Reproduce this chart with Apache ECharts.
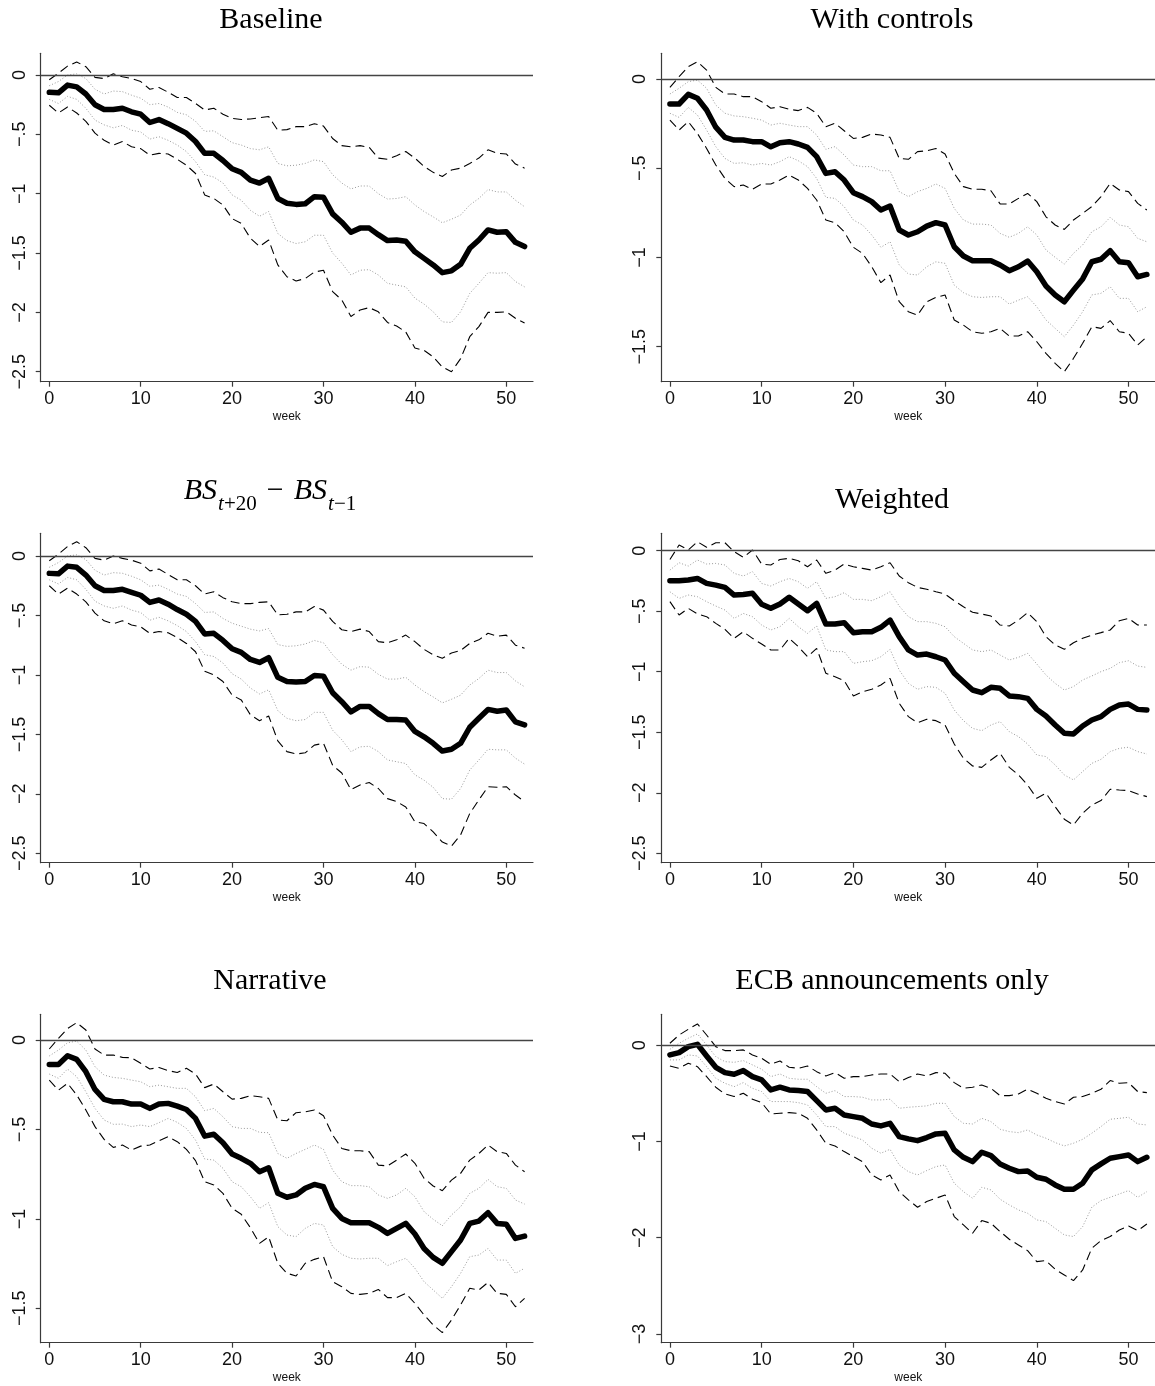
<!DOCTYPE html>
<html>
<head>
<meta charset="utf-8">
<script src="https://cdn.jsdelivr.net/npm/echarts@6/dist/echarts.min.js"></script>
<style>
html,body{margin:0;padding:0;background:#ffffff;}
#chart{width:1155px;height:1386px;}
</style>
</head>
<body>
<div id="chart"></div>
<script>
// ---------------- DATA ----------------
const weeks = [0,1,2,3,4,5,6,7,8,9,10,11,12,13,14,15,16,17,18,19,20,21,22,23,24,25,26,27,28,29,30,31,32,33,34,35,36,37,38,39,40,41,42,43,44,45,46,47,48,49,50,51,52];
const xTickValues = [0,10,20,30,40,50];

const titleBaseline = 'Baseline';
const titleControls = 'With controls';
const titleBS = '{m|BS}{si|t}{su|+20}{o|\u2009\u2212\u2009}{m|BS}{si|t}{su|\u22121}';
const titleWeighted = 'Weighted';
const titleNarrative = 'Narrative';
const titleECB = 'ECB announcements only';

const yTicksBaseline = [0,-0.5,-1,-1.5,-2,-2.5];
const yTicksControls = [0,-0.5,-1,-1.5];
const yTicksBS = [0,-0.5,-1,-1.5,-2,-2.5];
const yTicksWeighted = [0,-0.5,-1,-1.5,-2,-2.5];
const yTicksNarrative = [0,-0.5,-1,-1.5];
const yTicksECB = [0,-1,-2,-3];

// Baseline
const baselineEst = [-0.146,-0.15,-0.085,-0.10,-0.16,-0.25,-0.29,-0.29,-0.28,-0.31,-0.33,-0.40,-0.375,-0.41,-0.45,-0.49,-0.56,-0.66,-0.66,-0.72,-0.79,-0.82,-0.885,-0.91,-0.87,-1.04,-1.08,-1.09,-1.085,-1.025,-1.03,-1.17,-1.24,-1.325,-1.29,-1.29,-1.345,-1.395,-1.39,-1.40,-1.49,-1.545,-1.60,-1.665,-1.65,-1.595,-1.46,-1.39,-1.305,-1.325,-1.32,-1.41,-1.445];
const baselineOuterUp = [-0.04,0.015,0.075,0.11,0.07,-0.02,-0.03,0.01,-0.015,-0.03,-0.055,-0.12,-0.105,-0.145,-0.19,-0.19,-0.24,-0.295,-0.28,-0.33,-0.365,-0.375,-0.37,-0.36,-0.35,-0.465,-0.46,-0.435,-0.435,-0.41,-0.43,-0.535,-0.595,-0.605,-0.595,-0.61,-0.70,-0.71,-0.68,-0.645,-0.70,-0.77,-0.82,-0.855,-0.80,-0.785,-0.745,-0.70,-0.63,-0.66,-0.665,-0.75,-0.785];
const baselineOuterLo = [-0.255,-0.32,-0.27,-0.32,-0.39,-0.49,-0.55,-0.59,-0.56,-0.605,-0.62,-0.675,-0.66,-0.665,-0.71,-0.76,-0.83,-1.01,-1.04,-1.095,-1.21,-1.25,-1.375,-1.445,-1.39,-1.60,-1.70,-1.735,-1.715,-1.66,-1.645,-1.825,-1.895,-2.035,-1.98,-1.96,-1.995,-2.085,-2.115,-2.165,-2.30,-2.32,-2.375,-2.46,-2.50,-2.39,-2.205,-2.12,-2.00,-2.00,-1.995,-2.05,-2.09];
const baselineInnerUp = [-0.09,-0.055,0.0,0.01,-0.03,-0.12,-0.16,-0.135,-0.14,-0.17,-0.195,-0.25,-0.24,-0.27,-0.315,-0.335,-0.39,-0.475,-0.47,-0.52,-0.57,-0.59,-0.62,-0.63,-0.605,-0.745,-0.765,-0.76,-0.745,-0.715,-0.73,-0.84,-0.91,-0.96,-0.935,-0.935,-1.0,-1.045,-1.04,-1.025,-1.095,-1.15,-1.195,-1.245,-1.215,-1.18,-1.095,-1.04,-0.965,-0.985,-0.985,-1.055,-1.11];
const baselineInnerLo = [-0.205,-0.24,-0.18,-0.205,-0.28,-0.38,-0.42,-0.445,-0.425,-0.465,-0.48,-0.54,-0.52,-0.55,-0.59,-0.645,-0.73,-0.84,-0.86,-0.91,-1.01,-1.055,-1.14,-1.19,-1.15,-1.335,-1.395,-1.42,-1.405,-1.35,-1.35,-1.50,-1.585,-1.685,-1.645,-1.64,-1.685,-1.755,-1.77,-1.785,-1.88,-1.93,-1.995,-2.08,-2.085,-1.995,-1.84,-1.755,-1.665,-1.67,-1.665,-1.74,-1.785];

// With controls
const controlsEst = [-0.14,-0.14,-0.086,-0.108,-0.174,-0.27,-0.327,-0.342,-0.342,-0.351,-0.351,-0.38,-0.357,-0.351,-0.364,-0.383,-0.435,-0.529,-0.52,-0.566,-0.637,-0.659,-0.687,-0.734,-0.712,-0.846,-0.874,-0.856,-0.824,-0.805,-0.818,-0.94,-0.992,-1.018,-1.018,-1.018,-1.042,-1.074,-1.052,-1.02,-1.08,-1.16,-1.21,-1.248,-1.183,-1.12,-1.024,-1.01,-0.962,-1.024,-1.03,-1.108,-1.095];
const controlsOuterUp = [-0.047,0.013,0.069,0.097,0.05,-0.047,-0.084,-0.084,-0.099,-0.099,-0.127,-0.164,-0.155,-0.17,-0.177,-0.159,-0.192,-0.267,-0.248,-0.29,-0.333,-0.327,-0.308,-0.314,-0.327,-0.445,-0.45,-0.407,-0.402,-0.389,-0.42,-0.529,-0.603,-0.618,-0.618,-0.626,-0.7,-0.7,-0.669,-0.641,-0.687,-0.772,-0.818,-0.843,-0.79,-0.753,-0.715,-0.659,-0.585,-0.622,-0.631,-0.697,-0.734];
const controlsOuterLo = [-0.23,-0.286,-0.239,-0.305,-0.389,-0.482,-0.557,-0.603,-0.594,-0.618,-0.588,-0.588,-0.566,-0.538,-0.566,-0.613,-0.678,-0.79,-0.805,-0.856,-0.943,-0.977,-1.052,-1.141,-1.098,-1.248,-1.304,-1.323,-1.248,-1.224,-1.21,-1.35,-1.379,-1.416,-1.425,-1.416,-1.397,-1.44,-1.44,-1.416,-1.472,-1.537,-1.593,-1.64,-1.565,-1.481,-1.388,-1.397,-1.354,-1.416,-1.425,-1.49,-1.444];
const controlsInnerUp = [-0.084,-0.052,-0.015,-0.006,-0.052,-0.146,-0.192,-0.207,-0.211,-0.22,-0.23,-0.258,-0.248,-0.258,-0.267,-0.267,-0.314,-0.394,-0.379,-0.426,-0.482,-0.491,-0.491,-0.514,-0.514,-0.631,-0.659,-0.631,-0.613,-0.588,-0.613,-0.725,-0.79,-0.813,-0.813,-0.818,-0.865,-0.887,-0.865,-0.828,-0.874,-0.958,-0.999,-1.037,-0.977,-0.93,-0.856,-0.828,-0.775,-0.818,-0.828,-0.893,-0.912];
const controlsInnerLo = [-0.192,-0.215,-0.159,-0.202,-0.286,-0.379,-0.445,-0.473,-0.469,-0.482,-0.473,-0.482,-0.463,-0.435,-0.458,-0.491,-0.557,-0.663,-0.669,-0.715,-0.79,-0.818,-0.874,-0.943,-0.912,-1.042,-1.093,-1.098,-1.052,-1.024,-1.033,-1.155,-1.197,-1.22,-1.224,-1.22,-1.22,-1.261,-1.239,-1.22,-1.276,-1.35,-1.397,-1.444,-1.379,-1.304,-1.21,-1.201,-1.164,-1.229,-1.229,-1.304,-1.276];

// BS_{t+20} - BS_{t-1}
const bsEst = [-0.146,-0.15,-0.085,-0.095,-0.16,-0.25,-0.29,-0.29,-0.28,-0.305,-0.33,-0.39,-0.37,-0.405,-0.45,-0.49,-0.55,-0.655,-0.65,-0.71,-0.78,-0.81,-0.87,-0.895,-0.855,-1.02,-1.055,-1.06,-1.055,-1.005,-1.01,-1.15,-1.225,-1.31,-1.265,-1.265,-1.325,-1.375,-1.375,-1.38,-1.475,-1.52,-1.575,-1.64,-1.625,-1.575,-1.44,-1.365,-1.29,-1.305,-1.295,-1.395,-1.42];
const bsOuterUp = [-0.04,0.015,0.08,0.12,0.07,-0.02,-0.035,0.0,-0.02,-0.035,-0.06,-0.125,-0.11,-0.155,-0.2,-0.2,-0.25,-0.32,-0.30,-0.35,-0.385,-0.40,-0.40,-0.39,-0.385,-0.495,-0.49,-0.47,-0.47,-0.425,-0.455,-0.55,-0.62,-0.635,-0.615,-0.635,-0.72,-0.73,-0.705,-0.665,-0.72,-0.785,-0.83,-0.86,-0.815,-0.795,-0.735,-0.705,-0.65,-0.675,-0.665,-0.75,-0.775];
const bsOuterLo = [-0.25,-0.32,-0.27,-0.32,-0.385,-0.48,-0.545,-0.57,-0.545,-0.58,-0.595,-0.65,-0.635,-0.645,-0.685,-0.735,-0.805,-0.97,-1.0,-1.055,-1.17,-1.21,-1.335,-1.385,-1.345,-1.555,-1.645,-1.665,-1.655,-1.59,-1.575,-1.76,-1.825,-1.965,-1.925,-1.905,-1.955,-2.04,-2.065,-2.11,-2.235,-2.25,-2.32,-2.405,-2.44,-2.345,-2.165,-2.05,-1.94,-1.945,-1.94,-2.01,-2.065];
const bsInnerUp = [-0.095,-0.055,0.0,0.01,-0.03,-0.12,-0.16,-0.14,-0.145,-0.17,-0.2,-0.255,-0.245,-0.28,-0.32,-0.34,-0.40,-0.475,-0.47,-0.525,-0.565,-0.59,-0.615,-0.63,-0.61,-0.745,-0.76,-0.755,-0.74,-0.71,-0.73,-0.83,-0.91,-0.96,-0.93,-0.935,-0.995,-1.035,-1.035,-1.02,-1.085,-1.14,-1.185,-1.235,-1.205,-1.17,-1.085,-1.03,-0.96,-0.98,-0.98,-1.05,-1.1];
const bsInnerLo = [-0.2,-0.235,-0.18,-0.2,-0.28,-0.38,-0.42,-0.44,-0.42,-0.455,-0.475,-0.54,-0.515,-0.545,-0.585,-0.635,-0.72,-0.83,-0.845,-0.9,-0.99,-1.035,-1.11,-1.16,-1.125,-1.3,-1.365,-1.385,-1.375,-1.315,-1.315,-1.465,-1.545,-1.645,-1.605,-1.6,-1.645,-1.715,-1.73,-1.745,-1.84,-1.885,-1.945,-2.04,-2.045,-1.955,-1.8,-1.715,-1.625,-1.63,-1.63,-1.7,-1.75];

// Weighted
const weightedEst = [-0.248,-0.248,-0.242,-0.229,-0.27,-0.284,-0.303,-0.366,-0.361,-0.352,-0.443,-0.476,-0.44,-0.385,-0.44,-0.496,-0.435,-0.606,-0.606,-0.595,-0.677,-0.669,-0.669,-0.633,-0.573,-0.71,-0.82,-0.862,-0.854,-0.876,-0.903,-1.013,-1.082,-1.151,-1.173,-1.129,-1.137,-1.2,-1.206,-1.22,-1.311,-1.366,-1.44,-1.509,-1.514,-1.448,-1.399,-1.371,-1.311,-1.275,-1.267,-1.311,-1.316];
const weightedOuterUp = [-0.072,0.047,0.006,0.074,0.028,0.066,0.066,-0.008,-0.055,0.006,-0.11,-0.118,-0.072,-0.063,-0.083,-0.132,-0.077,-0.187,-0.16,-0.11,-0.132,-0.146,-0.16,-0.132,-0.099,-0.209,-0.264,-0.303,-0.319,-0.339,-0.358,-0.413,-0.463,-0.509,-0.523,-0.54,-0.614,-0.622,-0.573,-0.512,-0.586,-0.71,-0.779,-0.815,-0.76,-0.724,-0.697,-0.677,-0.655,-0.578,-0.559,-0.614,-0.614];
const weightedOuterLo = [-0.421,-0.531,-0.476,-0.523,-0.545,-0.6,-0.65,-0.724,-0.669,-0.724,-0.771,-0.82,-0.82,-0.724,-0.793,-0.876,-0.807,-1.013,-1.041,-1.074,-1.2,-1.165,-1.145,-1.11,-1.055,-1.261,-1.371,-1.421,-1.393,-1.404,-1.44,-1.597,-1.715,-1.779,-1.79,-1.729,-1.674,-1.79,-1.853,-1.936,-2.046,-2.004,-2.115,-2.219,-2.266,-2.17,-2.101,-2.065,-1.971,-1.977,-1.982,-2.01,-2.032];
const weightedInnerUp = [-0.16,-0.099,-0.127,-0.077,-0.11,-0.105,-0.118,-0.187,-0.209,-0.173,-0.27,-0.292,-0.256,-0.229,-0.256,-0.311,-0.256,-0.394,-0.38,-0.347,-0.402,-0.402,-0.413,-0.38,-0.339,-0.457,-0.545,-0.586,-0.586,-0.6,-0.628,-0.71,-0.765,-0.82,-0.834,-0.82,-0.862,-0.903,-0.881,-0.848,-0.936,-1.027,-1.096,-1.151,-1.123,-1.068,-1.035,-0.999,-0.972,-0.925,-0.909,-0.953,-0.964];
const weightedInnerLo = [-0.339,-0.394,-0.366,-0.38,-0.421,-0.457,-0.49,-0.559,-0.518,-0.545,-0.614,-0.655,-0.628,-0.559,-0.628,-0.683,-0.622,-0.82,-0.834,-0.834,-0.931,-0.917,-0.909,-0.876,-0.815,-0.986,-1.096,-1.145,-1.123,-1.129,-1.178,-1.316,-1.404,-1.468,-1.487,-1.44,-1.412,-1.495,-1.536,-1.597,-1.688,-1.701,-1.77,-1.853,-1.894,-1.825,-1.757,-1.724,-1.66,-1.633,-1.624,-1.66,-1.68];

// Narrative
const narrativeEst = [-0.136,-0.136,-0.088,-0.108,-0.177,-0.276,-0.332,-0.345,-0.345,-0.358,-0.358,-0.382,-0.358,-0.354,-0.369,-0.388,-0.438,-0.537,-0.527,-0.574,-0.637,-0.661,-0.689,-0.736,-0.714,-0.857,-0.879,-0.866,-0.829,-0.807,-0.82,-0.941,-0.997,-1.021,-1.021,-1.021,-1.047,-1.081,-1.053,-1.025,-1.084,-1.165,-1.215,-1.248,-1.183,-1.118,-1.025,-1.012,-0.965,-1.025,-1.03,-1.109,-1.096];
const narrativeOuterUp = [-0.05,0.009,0.065,0.097,0.056,-0.05,-0.084,-0.084,-0.097,-0.099,-0.13,-0.162,-0.153,-0.171,-0.181,-0.158,-0.19,-0.266,-0.246,-0.289,-0.33,-0.326,-0.311,-0.317,-0.326,-0.447,-0.451,-0.406,-0.401,-0.391,-0.423,-0.531,-0.606,-0.619,-0.619,-0.624,-0.699,-0.704,-0.671,-0.637,-0.689,-0.773,-0.816,-0.842,-0.783,-0.745,-0.671,-0.634,-0.587,-0.624,-0.634,-0.699,-0.736];
const narrativeOuterLo = [-0.224,-0.28,-0.242,-0.307,-0.391,-0.484,-0.555,-0.6,-0.587,-0.615,-0.593,-0.587,-0.563,-0.54,-0.568,-0.611,-0.674,-0.792,-0.81,-0.857,-0.941,-0.974,-1.049,-1.137,-1.1,-1.248,-1.304,-1.319,-1.248,-1.226,-1.211,-1.351,-1.379,-1.416,-1.422,-1.416,-1.394,-1.44,-1.44,-1.416,-1.472,-1.537,-1.593,-1.636,-1.565,-1.481,-1.388,-1.397,-1.355,-1.416,-1.422,-1.491,-1.444];
const narrativeInnerUp = [-0.089,-0.056,-0.015,-0.006,-0.056,-0.149,-0.196,-0.209,-0.214,-0.224,-0.233,-0.261,-0.252,-0.261,-0.27,-0.27,-0.317,-0.395,-0.382,-0.429,-0.484,-0.494,-0.494,-0.516,-0.518,-0.634,-0.661,-0.634,-0.611,-0.587,-0.611,-0.727,-0.792,-0.814,-0.814,-0.82,-0.866,-0.885,-0.866,-0.829,-0.876,-0.959,-1.002,-1.038,-0.978,-0.932,-0.857,-0.829,-0.779,-0.82,-0.829,-0.894,-0.917];
const narrativeInnerLo = [-0.19,-0.214,-0.162,-0.205,-0.289,-0.382,-0.447,-0.471,-0.47,-0.484,-0.475,-0.484,-0.462,-0.438,-0.46,-0.494,-0.559,-0.665,-0.671,-0.717,-0.792,-0.82,-0.876,-0.941,-0.909,-1.043,-1.09,-1.099,-1.053,-1.025,-1.034,-1.155,-1.198,-1.22,-1.224,-1.22,-1.22,-1.261,-1.239,-1.22,-1.276,-1.351,-1.397,-1.444,-1.379,-1.304,-1.211,-1.202,-1.165,-1.23,-1.23,-1.304,-1.276];

// ECB announcements only
const ecbEst = [-0.1,-0.076,-0.014,0.01,-0.111,-0.229,-0.284,-0.301,-0.263,-0.326,-0.36,-0.464,-0.436,-0.464,-0.471,-0.481,-0.575,-0.672,-0.655,-0.724,-0.741,-0.759,-0.818,-0.838,-0.811,-0.949,-0.973,-0.991,-0.959,-0.921,-0.914,-1.088,-1.164,-1.209,-1.112,-1.147,-1.233,-1.278,-1.313,-1.306,-1.372,-1.392,-1.451,-1.496,-1.496,-1.434,-1.295,-1.233,-1.174,-1.157,-1.14,-1.209,-1.164];
const ecbOuterUp = [0.021,0.107,0.166,0.222,0.107,-0.014,-0.055,-0.055,-0.048,-0.1,-0.135,-0.197,-0.163,-0.229,-0.239,-0.215,-0.274,-0.319,-0.284,-0.343,-0.326,-0.326,-0.308,-0.298,-0.298,-0.378,-0.336,-0.298,-0.319,-0.284,-0.291,-0.388,-0.447,-0.436,-0.412,-0.447,-0.523,-0.523,-0.506,-0.457,-0.499,-0.551,-0.585,-0.61,-0.54,-0.533,-0.499,-0.457,-0.367,-0.395,-0.388,-0.481,-0.492];
const ecbOuterLo = [-0.215,-0.239,-0.187,-0.222,-0.326,-0.436,-0.506,-0.533,-0.499,-0.561,-0.596,-0.714,-0.707,-0.7,-0.707,-0.759,-0.88,-1.018,-1.046,-1.105,-1.157,-1.209,-1.348,-1.399,-1.348,-1.521,-1.607,-1.683,-1.624,-1.59,-1.555,-1.78,-1.867,-1.954,-1.822,-1.85,-1.936,-2.016,-2.075,-2.134,-2.248,-2.238,-2.328,-2.387,-2.446,-2.335,-2.109,-2.03,-1.988,-1.919,-1.877,-1.926,-1.857];
const ecbInnerUp = [-0.042,0.021,0.073,0.118,0.003,-0.118,-0.17,-0.177,-0.159,-0.204,-0.249,-0.326,-0.298,-0.343,-0.353,-0.353,-0.43,-0.499,-0.471,-0.533,-0.533,-0.54,-0.568,-0.568,-0.561,-0.655,-0.644,-0.637,-0.63,-0.603,-0.603,-0.741,-0.811,-0.818,-0.759,-0.793,-0.873,-0.897,-0.908,-0.88,-0.932,-0.966,-1.011,-1.046,-1.018,-0.977,-0.914,-0.845,-0.769,-0.759,-0.748,-0.818,-0.828];
const ecbInnerLo = [-0.152,-0.152,-0.1,-0.111,-0.222,-0.343,-0.395,-0.43,-0.388,-0.447,-0.481,-0.585,-0.585,-0.585,-0.596,-0.62,-0.724,-0.845,-0.845,-0.914,-0.949,-0.984,-1.07,-1.122,-1.081,-1.244,-1.313,-1.348,-1.302,-1.261,-1.244,-1.434,-1.521,-1.59,-1.476,-1.503,-1.6,-1.659,-1.711,-1.746,-1.815,-1.832,-1.902,-1.971,-1.988,-1.884,-1.683,-1.614,-1.58,-1.545,-1.51,-1.58,-1.521];

// ---------------- PANEL TABLE (built from the arrays above) ----------------
const panels = [
  {title: titleBaseline,  ticks: yTicksBaseline,  est: baselineEst,  oU: baselineOuterUp,  oL: baselineOuterLo,  iU: baselineInnerUp,  iL: baselineInnerLo},
  {title: titleControls,  ticks: yTicksControls,  est: controlsEst,  oU: controlsOuterUp,  oL: controlsOuterLo,  iU: controlsInnerUp,  iL: controlsInnerLo},
  {title: titleBS,        ticks: yTicksBS,        est: bsEst,        oU: bsOuterUp,        oL: bsOuterLo,        iU: bsInnerUp,        iL: bsInnerLo},
  {title: titleWeighted,  ticks: yTicksWeighted,  est: weightedEst,  oU: weightedOuterUp,  oL: weightedOuterLo,  iU: weightedInnerUp,  iL: weightedInnerLo},
  {title: titleNarrative, ticks: yTicksNarrative, est: narrativeEst, oU: narrativeOuterUp, oL: narrativeOuterLo, iU: narrativeInnerUp, iL: narrativeInnerLo},
  {title: titleECB,       ticks: yTicksECB,       est: ecbEst,       oU: ecbOuterUp,       oL: ecbOuterLo,       iU: ecbInnerUp,       iL: ecbInnerLo}
];

// ---------------- LAYOUT / STYLE ----------------
const layout = [
  {left: 40.7,  top: 53.3,   width: 492.3, height: 328.4, yMin: -2.584, yMax: 0.183, tx: 271, tt: 5},
  {left: 661.3, top: 53.3,   width: 494.0, height: 328.4, yMin: -1.696, yMax: 0.144, tx: 892, tt: 5},
  {left: 40.7,  top: 533.3,  width: 492.3, height: 329.4, yMin: -2.579, yMax: 0.191, tx: 270, tt: 476},
  {left: 661.3, top: 533.3,  width: 494.0, height: 329.4, yMin: -2.578, yMax: 0.144, tx: 892, tt: 485},
  {left: 40.7,  top: 1014.3, width: 492.3, height: 328.4, yMin: -1.692, yMax: 0.144, tx: 270, tt: 966},
  {left: 661.3, top: 1014.3, width: 494.0, height: 328.4, yMin: -3.091, yMax: 0.322, tx: 892, tt: 966}
];
const X_MIN = -0.94, X_MAX = 52.92;
const AXIS_COLOR = '#3a3a3a';
const LABEL_FONT = 'Liberation Sans, Arial, Helvetica, sans-serif';
const TITLE_FONT = 'Liberation Serif, Times New Roman, serif';

function fmtY(v) {
  if (v === 0) return '0';
  const a = Math.abs(v);
  let s = String(a);
  if (s.startsWith('0.')) s = s.substring(1);
  return (v < 0 ? '\u2212' : '') + s;
}
function pairs(arr) { return weeks.map((w, k) => [w, arr[k]]); }

const option = {
  animation: false,
  backgroundColor: '#ffffff',
  title: [], grid: [], xAxis: [], yAxis: [], series: []
};

panels.forEach((p, i) => {
  const L = layout[i];
  option.title.push({
    text: p.title,
    left: L.tx, top: L.tt, textAlign: 'center', padding: 0,
    textStyle: {
      fontFamily: TITLE_FONT, fontSize: 30, fontWeight: 'normal', color: '#000',
      rich: {
        m: {fontFamily: TITLE_FONT, fontSize: 30, fontStyle: 'italic', color: '#000', lineHeight: 30},
        si: {fontFamily: TITLE_FONT, fontSize: 21, fontStyle: 'italic', color: '#000', lineHeight: 21, padding: [26, 0, 0, 1]},
        su: {fontFamily: TITLE_FONT, fontSize: 21, fontStyle: 'normal', color: '#000', lineHeight: 21, padding: [26, 0, 0, 0]},
        o: {fontFamily: TITLE_FONT, fontSize: 30, color: '#000', lineHeight: 30, padding: [0, 4, 0, 4]}
      }
    }
  });
  option.grid.push({left: L.left, top: L.top, width: L.width, height: L.height, containLabel: false, outerBoundsMode: 'none'});
  option.xAxis.push({
    type: 'value', gridIndex: i, min: X_MIN, max: X_MAX,
    name: 'week', nameLocation: 'middle', nameGap: 29,
    nameTextStyle: {fontFamily: LABEL_FONT, fontSize: 12, color: '#111'},
    axisLine: {show: true, onZero: false, lineStyle: {color: AXIS_COLOR, width: 1.2}},
    axisTick: {show: true, inside: false, length: 5, customValues: xTickValues, lineStyle: {color: AXIS_COLOR, width: 1.2}},
    axisLabel: {show: true, customValues: xTickValues, fontFamily: LABEL_FONT, fontSize: 18, color: '#111', margin: 8},
    splitLine: {show: false}
  });
  option.yAxis.push({
    type: 'value', gridIndex: i, min: L.yMin, max: L.yMax,
    axisLine: {show: true, onZero: false, lineStyle: {color: AXIS_COLOR, width: 1.2}},
    axisTick: {show: true, inside: false, length: 5, customValues: p.ticks, lineStyle: {color: AXIS_COLOR, width: 1.2}},
    axisLabel: {show: true, customValues: p.ticks, rotate: 90, formatter: fmtY, fontFamily: LABEL_FONT, fontSize: 18, color: '#111', margin: 12},
    splitLine: {show: false}
  });
  const base = {type: 'line', xAxisIndex: i, yAxisIndex: i, symbol: 'none', showSymbol: false, silent: true, smooth: false};
  option.series.push(Object.assign({}, base, {data: pairs(p.iU), z: 2, lineStyle: {color: '#9a9a9a', width: 1, type: [1, 2]}}));
  option.series.push(Object.assign({}, base, {data: pairs(p.iL), z: 2, lineStyle: {color: '#9a9a9a', width: 1, type: [1, 2]}}));
  option.series.push(Object.assign({}, base, {data: pairs(p.oU), z: 3, lineStyle: {color: '#000', width: 1.1, type: [9, 5]}}));
  option.series.push(Object.assign({}, base, {data: pairs(p.oL), z: 3, lineStyle: {color: '#000', width: 1.1, type: [9, 5]}}));
  option.series.push(Object.assign({}, base, {
    data: pairs(p.est), z: 4,
    lineStyle: {color: '#000', width: 5.5, cap: 'round', join: 'round'},
    markLine: {
      silent: true, symbol: ['none', 'none'], label: {show: false}, animation: false,
      lineStyle: {color: '#444', width: 1.3, type: 'solid'},
      emphasis: {disabled: true},
      data: [{yAxis: 0}]
    }
  }));
});

const chart = echarts.init(document.getElementById('chart'), null, {renderer: 'canvas'});
chart.setOption(option);
</script>
</body>
</html>
